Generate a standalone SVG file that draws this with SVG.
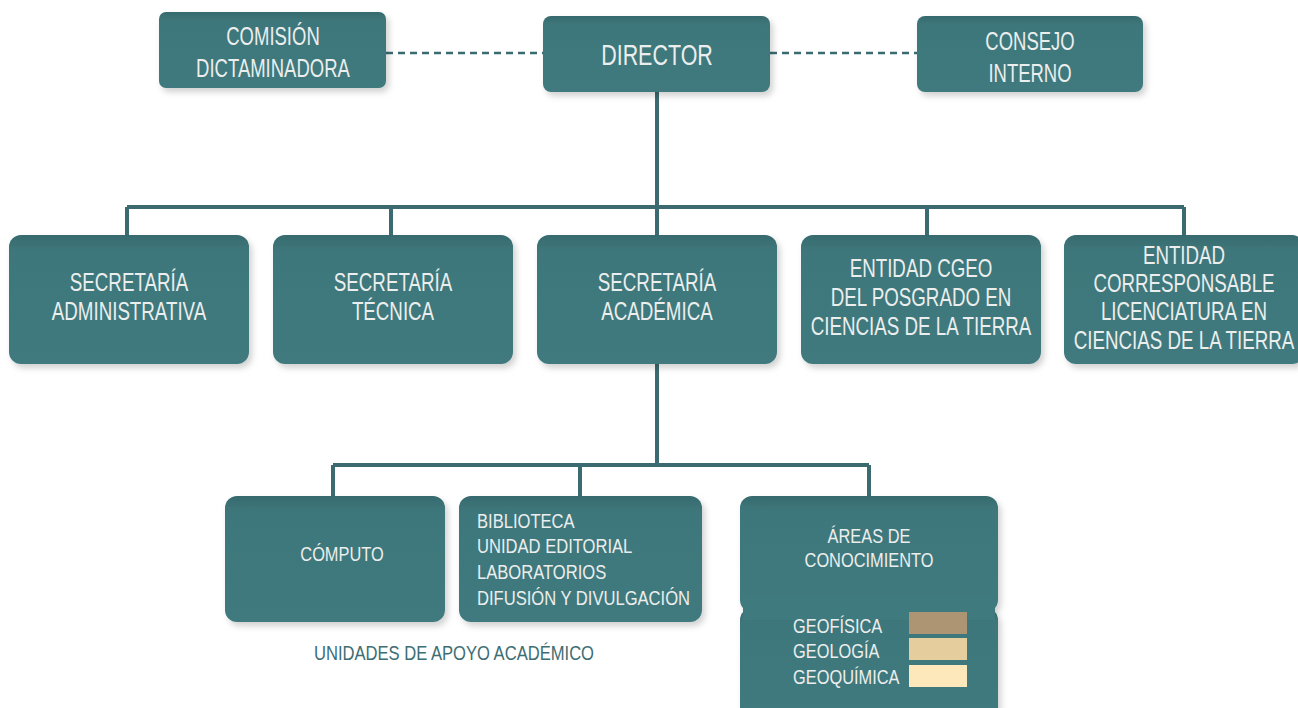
<svg xmlns="http://www.w3.org/2000/svg" width="1298" height="708" viewBox="0 0 1298 708">
<defs>
<linearGradient id="g" x1="0" y1="0" x2="0" y2="1">
<stop offset="0" stop-color="#366a6e"/>
<stop offset="0.12" stop-color="#3e777b"/>
<stop offset="1" stop-color="#3f7a7e"/>
</linearGradient>
<filter id="sh" x="-10%" y="-10%" width="125%" height="130%">
<feDropShadow dx="3" dy="4" stdDeviation="3" flood-color="#000" flood-opacity="0.18"/>
</filter>
</defs>
<style>
.box{fill:url(#g);filter:url(#sh)}
.t{font-family:"Liberation Sans",Arial,sans-serif;fill:#eceeed;text-anchor:middle}
.l{text-anchor:start}
.f1{font-size:29px}
.f2{font-size:25px}
.f3{font-size:21px}
.ln{stroke:#3b6b70;stroke-width:4;fill:none}
.dash{stroke:#3b6b70;stroke-width:2.5;stroke-dasharray:7 5;fill:none}
</style>
<g id="connectors">
<line class="dash" x1="386" y1="53" x2="543" y2="53"/>
<line class="dash" x1="770" y1="53" x2="917" y2="53"/>
<path class="ln" d="M657 92 V207 M127 207 H1184 M127 207 V236 M391 207 V236 M657 207 V236 M927 207 V236 M1184 207 V236"/>
<path class="ln" d="M657 364 V465 M333 465 H869 M333 465 V497 M580 465 V497 M869 465 V497"/>
</g>
<g id="comision">
<rect class="box" x="159" y="12" width="227" height="76" rx="7"/>
<text class="t f2" transform="translate(273,45) scale(0.74,1)">COMISIÓN</text>
<text class="t f2" transform="translate(273,77) scale(0.74,1)">DICTAMINADORA</text>
</g>
<g id="director">
<rect class="box" x="543" y="16" width="227" height="76" rx="8"/>
<text class="t f1" transform="translate(657,65) scale(0.74,1)">DIRECTOR</text>
</g>
<g id="consejo">
<rect class="box" x="917" y="16" width="226" height="76" rx="8"/>
<text class="t f2" transform="translate(1030,50) scale(0.74,1)">CONSEJO</text>
<text class="t f2" transform="translate(1030,82) scale(0.74,1)">INTERNO</text>
</g>
<g id="sec-admin">
<rect class="box" x="9" y="235" width="240" height="129" rx="12"/>
<text class="t f2" transform="translate(129,291) scale(0.75,1)">SECRETARÍA</text>
<text class="t f2" transform="translate(129,320) scale(0.75,1)">ADMINISTRATIVA</text>
</g>
<g id="sec-tec">
<rect class="box" x="273" y="235" width="240" height="129" rx="12"/>
<text class="t f2" transform="translate(393,291) scale(0.75,1)">SECRETARÍA</text>
<text class="t f2" transform="translate(393,320) scale(0.75,1)">TÉCNICA</text>
</g>
<g id="sec-acad">
<rect class="box" x="537" y="235" width="240" height="129" rx="12"/>
<text class="t f2" transform="translate(657,291) scale(0.75,1)">SECRETARÍA</text>
<text class="t f2" transform="translate(657,320) scale(0.75,1)">ACADÉMICA</text>
</g>
<g id="entidad-cgeo">
<rect class="box" x="801" y="235" width="240" height="129" rx="12"/>
<text class="t f2" transform="translate(921,277) scale(0.75,1)">ENTIDAD CGEO</text>
<text class="t f2" transform="translate(921,306) scale(0.75,1)">DEL POSGRADO EN</text>
<text class="t f2" transform="translate(921,335) scale(0.75,1)">CIENCIAS DE LA TIERRA</text>
</g>
<g id="entidad-lic">
<rect class="box" x="1064" y="235" width="240" height="129" rx="12"/>
<text class="t f2" transform="translate(1184,264) scale(0.75,1)">ENTIDAD</text>
<text class="t f2" transform="translate(1184,292) scale(0.75,1)">CORRESPONSABLE</text>
<text class="t f2" transform="translate(1184,320) scale(0.75,1)">LICENCIATURA EN</text>
<text class="t f2" transform="translate(1184,349) scale(0.75,1)">CIENCIAS DE LA TIERRA</text>
</g>
<g id="computo">
<rect class="box" x="225" y="496" width="220" height="126" rx="12"/>
<text class="t f3" transform="translate(342,561) scale(0.78,1)">CÓMPUTO</text>
</g>
<g id="biblioteca">
<rect class="box" x="459" y="496" width="243" height="126" rx="12"/>
<text class="t f3 l" transform="translate(477,528) scale(0.79,1)">BIBLIOTECA</text>
<text class="t f3 l" transform="translate(477,553) scale(0.79,1)">UNIDAD EDITORIAL</text>
<text class="t f3 l" transform="translate(477,579) scale(0.79,1)">LABORATORIOS</text>
<text class="t f3 l" transform="translate(477,605) scale(0.79,1)">DIFUSIÓN Y DIVULGACIÓN</text>
</g>
<g id="areas">
<rect class="box" x="740" y="608" width="258" height="112" rx="12"/>
<rect class="box" x="740" y="496" width="258" height="116" rx="12"/>
<rect x="743" y="596" width="252" height="24" fill="#3f7a7e"/>
<text class="t f3" transform="translate(869,543) scale(0.78,1)">ÁREAS DE</text>
<text class="t f3" transform="translate(869,567) scale(0.78,1)">CONOCIMIENTO</text>
<text class="t f3 l" transform="translate(793,633) scale(0.78,1)">GEOFÍSICA</text>
<text class="t f3 l" transform="translate(793,658) scale(0.78,1)">GEOLOGÍA</text>
<text class="t f3 l" transform="translate(793,684) scale(0.78,1)">GEOQUÍMICA</text>
<rect x="909" y="612" width="58" height="22" fill="#ad9574"/>
<rect x="909" y="638" width="58" height="22" fill="#e5cd9d"/>
<rect x="909" y="665" width="58" height="22" fill="#fde8bb"/>
</g>
<g id="caption">
<text class="t f3" transform="translate(454,660) scale(0.79,1)" style="fill:#3d6e73">UNIDADES DE APOYO ACADÉMICO</text>
</g>
</svg>
